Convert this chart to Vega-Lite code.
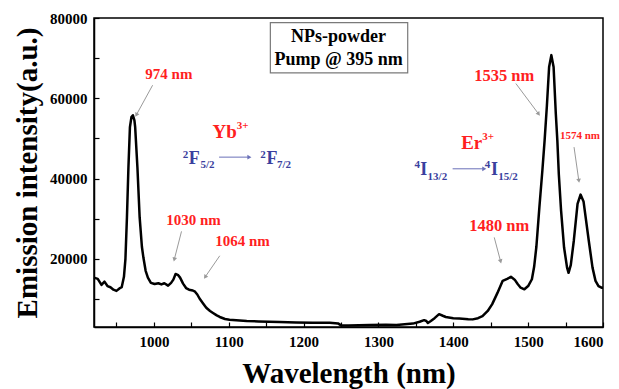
{
  "$schema": "https://vega.github.io/schema/vega-lite/v6.json",
  "width": 509,
  "height": 309,
  "autosize": {"type": "none"},
  "padding": {"left": 94, "top": 18, "right": 16, "bottom": 62},
  "config": {
    "font": "Liberation Serif",
    "view": {"stroke": "black", "strokeWidth": 1.5},
    "axis": {
      "labelFont": "Liberation Serif", "labelFontWeight": "bold", "labelFontSize": 15, "labelColor": "black",
      "titleFont": "Liberation Serif", "titleFontWeight": "bold", "titleFontSize": 29, "titleColor": "black",
      "domainColor": "black", "domainWidth": 1.5, "tickColor": "black", "tickWidth": 1.2, "tickSize": -5,
      "grid": false
    }
  },
  "datasets": {
    "spectrum": [
      {"x": 920, "y": 15300}, {"x": 925, "y": 15000}, {"x": 930, "y": 13500}, {"x": 934, "y": 14300},
      {"x": 938, "y": 13200}, {"x": 942, "y": 12900}, {"x": 946, "y": 12300}, {"x": 950, "y": 12000},
      {"x": 954, "y": 12600}, {"x": 957, "y": 12900}, {"x": 960, "y": 15500}, {"x": 962, "y": 20000},
      {"x": 964, "y": 30300}, {"x": 966, "y": 42800}, {"x": 968, "y": 52800}, {"x": 970, "y": 55300},
      {"x": 972, "y": 55750}, {"x": 974, "y": 54500}, {"x": 975, "y": 52800}, {"x": 978, "y": 42800},
      {"x": 981, "y": 30300}, {"x": 984, "y": 23000}, {"x": 986, "y": 20300}, {"x": 989, "y": 17000},
      {"x": 992, "y": 15300}, {"x": 996, "y": 14000}, {"x": 1001, "y": 13700}, {"x": 1006, "y": 13900},
      {"x": 1010, "y": 13600}, {"x": 1014, "y": 13900}, {"x": 1019, "y": 13300}, {"x": 1023, "y": 14000},
      {"x": 1026, "y": 14800}, {"x": 1029, "y": 16200}, {"x": 1032, "y": 16000}, {"x": 1035, "y": 15300},
      {"x": 1039, "y": 13800}, {"x": 1043, "y": 12700}, {"x": 1047, "y": 12300}, {"x": 1052, "y": 12100},
      {"x": 1055, "y": 11800}, {"x": 1058, "y": 11100}, {"x": 1061, "y": 10100}, {"x": 1066, "y": 8800},
      {"x": 1070, "y": 7800}, {"x": 1075, "y": 7000}, {"x": 1079, "y": 6500}, {"x": 1084, "y": 5900},
      {"x": 1088, "y": 5500}, {"x": 1095, "y": 5000}, {"x": 1101, "y": 4800}, {"x": 1110, "y": 4700},
      {"x": 1124, "y": 4500}, {"x": 1140, "y": 4400}, {"x": 1168, "y": 4250}, {"x": 1190, "y": 4150},
      {"x": 1212, "y": 4050}, {"x": 1235, "y": 4050}, {"x": 1246, "y": 3900}, {"x": 1250, "y": 3400},
      {"x": 1260, "y": 3350}, {"x": 1288, "y": 3500}, {"x": 1310, "y": 3550}, {"x": 1324, "y": 3500},
      {"x": 1346, "y": 3850}, {"x": 1355, "y": 4300}, {"x": 1361, "y": 4700}, {"x": 1364, "y": 4500},
      {"x": 1366, "y": 4000}, {"x": 1370, "y": 4500}, {"x": 1375, "y": 5200}, {"x": 1381, "y": 6200},
      {"x": 1386, "y": 5800}, {"x": 1390, "y": 5500}, {"x": 1400, "y": 5200}, {"x": 1408, "y": 5100},
      {"x": 1420, "y": 4950}, {"x": 1426, "y": 4900}, {"x": 1433, "y": 5200}, {"x": 1439, "y": 5700},
      {"x": 1446, "y": 7000}, {"x": 1452, "y": 8700}, {"x": 1459, "y": 11500}, {"x": 1466, "y": 14500},
      {"x": 1472, "y": 15000}, {"x": 1477, "y": 15500}, {"x": 1482, "y": 14800}, {"x": 1486, "y": 13700},
      {"x": 1490, "y": 12800}, {"x": 1495, "y": 12400}, {"x": 1500, "y": 13200}, {"x": 1505, "y": 14900},
      {"x": 1508, "y": 18000}, {"x": 1511, "y": 23000}, {"x": 1515, "y": 32800}, {"x": 1519, "y": 42000},
      {"x": 1522, "y": 49500}, {"x": 1525, "y": 58000}, {"x": 1528, "y": 67800}, {"x": 1531, "y": 70750},
      {"x": 1534, "y": 67800}, {"x": 1537, "y": 56000}, {"x": 1539, "y": 49500}, {"x": 1541, "y": 41000},
      {"x": 1544, "y": 32000}, {"x": 1548, "y": 22800}, {"x": 1552, "y": 17800}, {"x": 1554, "y": 16500},
      {"x": 1557, "y": 18500}, {"x": 1561, "y": 24500}, {"x": 1566, "y": 33700}, {"x": 1570, "y": 36000},
      {"x": 1574, "y": 34300}, {"x": 1581, "y": 24500}, {"x": 1586, "y": 17800}, {"x": 1590, "y": 14500},
      {"x": 1594, "y": 13200}, {"x": 1598, "y": 12800}, {"x": 1600, "y": 12800}
    ],
    "grayArrows": [
      {"x": 998.3, "y": 63250, "x2": 977, "y2": 56000},
      {"x": 1036.9, "y": 26830, "x2": 1027.5, "y2": 20000},
      {"x": 1088, "y": 20750, "x2": 1069, "y2": 15600},
      {"x": 1454.7, "y": 25330, "x2": 1463, "y2": 19500},
      {"x": 1483.6, "y": 63670, "x2": 1513.5, "y2": 56200},
      {"x": 1561.3, "y": 47830, "x2": 1567.6, "y2": 39600}
    ],
    "blueArrows": [
      {"x": 1087.1, "y": 45330, "x2": 1126.7, "y2": 45330},
      {"x": 1399.1, "y": 42420, "x2": 1440.5, "y2": 42420}
    ]
  },
  "encoding": {
    "x": {
      "field": "x", "type": "quantitative",
      "scale": {"domain": [920, 1600], "nice": false, "zero": false},
      "axis": {
        "title": "Wavelength (nm)",
        "values": [950, 1000, 1050, 1100, 1150, 1200, 1250, 1300, 1350, 1400, 1450, 1500, 1550, 1600],
        "labelExpr": "datum.value % 100 == 0 ? datum.value : ''",
        "labelPadding": 12, "titlePadding": 10
      }
    },
    "y": {
      "field": "y", "type": "quantitative",
      "scale": {"domain": [3000, 80000], "nice": false, "zero": false},
      "axis": {
        "title": "Emission intensity(a.u.)",
        "values": [10000, 20000, 30000, 40000, 50000, 60000, 70000, 80000],
        "labelExpr": "datum.value % 20000 == 0 ? datum.value : ''",
        "labelPadding": 12, "titlePadding": 7
      }
    }
  },
  "layer": [
    {
      "data": {"values": [{"x": 1155.6, "x2": 1339.1, "y": 78830, "y2": 66330}]},
      "mark": {"type": "rect", "fill": "white", "stroke": "#7a7a7a", "strokeWidth": 1.2},
      "encoding": {"x2": {"field": "x2"}, "y2": {"field": "y2"}}
    },
    {
      "data": {"name": "spectrum"},
      "mark": {"type": "line", "color": "black", "strokeWidth": 2.5, "strokeJoin": "round"}
    },
    {
      "data": {"values": [{"x": 1246.7, "y": 75330, "t": "NPs-powder"}, {"x": 1246.7, "y": 69500, "t": "Pump @ 395 nm"}]},
      "mark": {"type": "text", "font": "Liberation Serif", "fontWeight": "bold", "fontSize": 18, "color": "black", "align": "center", "baseline": "middle"},
      "encoding": {"text": {"field": "t"}}
    },
    {
      "data": {"values": [{"x": 1020, "y": 66000, "t": "974 nm"}, {"x": 1052.9, "y": 29670, "t": "1030 nm"}, {"x": 1118.3, "y": 24500, "t": "1064 nm"}]},
      "mark": {"type": "text", "fontWeight": "bold", "fontSize": 15, "color": "#ff1f1f", "align": "center", "baseline": "middle"},
      "encoding": {"text": {"field": "t"}}
    },
    {
      "data": {"values": [{"x": 1468, "y": 65500, "t": "1535 nm"}, {"x": 1461.3, "y": 28250, "t": "1480 nm"}]},
      "mark": {"type": "text", "fontWeight": "bold", "fontSize": 16.5, "color": "#ff1f1f", "align": "center", "baseline": "middle"},
      "encoding": {"text": {"field": "t"}}
    },
    {
      "data": {"values": [{"x": 1569.3, "y": 50500, "t": "1574 nm"}]},
      "mark": {"type": "text", "fontWeight": "bold", "fontSize": 11, "color": "#ff1f1f", "align": "center", "baseline": "middle"},
      "encoding": {"text": {"field": "t"}}
    },
    {
      "data": {"values": [{"x": 1110.7, "y": 51500, "t": "Yb"}, {"x": 1438.7, "y": 48750, "t": "Er"}]},
      "mark": {"type": "text", "fontWeight": "bold", "fontSize": 19, "color": "#ff1f1f", "align": "right", "baseline": "middle"},
      "encoding": {"text": {"field": "t"}}
    },
    {
      "data": {"values": [{"x": 1110.7, "y": 53200, "t": "3+"}, {"x": 1438.7, "y": 50400, "t": "3+"}]},
      "mark": {"type": "text", "fontWeight": "bold", "fontSize": 11, "color": "#ff1f1f", "align": "left", "baseline": "middle"},
      "encoding": {"text": {"field": "t"}}
    },
    {
      "data": {"values": [{"x": 1046.7, "y": 44870, "t": "F"}, {"x": 1150.3, "y": 44870, "t": "F"}, {"x": 1356, "y": 42000, "t": "I"}, {"x": 1450.3, "y": 42000, "t": "I"}]},
      "mark": {"type": "text", "fontWeight": "bold", "fontSize": 18, "color": "#3a3f9e", "align": "left", "baseline": "middle"},
      "encoding": {"text": {"field": "t"}}
    },
    {
      "data": {"values": [{"x": 1045.9, "y": 45900, "t": "2"}, {"x": 1149.3, "y": 45900, "t": "2"}, {"x": 1355.6, "y": 43250, "t": "4"}, {"x": 1449.3, "y": 43250, "t": "4"}]},
      "mark": {"type": "text", "fontWeight": "bold", "fontSize": 11, "color": "#3a3f9e", "align": "right", "baseline": "middle"},
      "encoding": {"text": {"field": "t"}}
    },
    {
      "data": {"values": [{"x": 1062.3, "y": 43250, "t": "5/2"}, {"x": 1164.4, "y": 43250, "t": "7/2"}, {"x": 1365.7, "y": 40500, "t": "13/2"}, {"x": 1460, "y": 40500, "t": "15/2"}]},
      "mark": {"type": "text", "fontWeight": "bold", "fontSize": 11, "color": "#3a3f9e", "align": "left", "baseline": "middle"},
      "encoding": {"text": {"field": "t"}}
    },
    {
      "data": {"name": "grayArrows"},
      "mark": {"type": "rule", "color": "#9a9a9a", "strokeWidth": 1},
      "encoding": {"x2": {"field": "x2"}, "y2": {"field": "y2"}}
    },
    {
      "data": {"name": "grayArrows"},
      "transform": [{"calculate": "atan2((datum.x2 - datum.x) * 0.75, (datum.y2 - datum.y) / 250) * 180 / PI", "as": "angle"}],
      "mark": {"type": "point", "shape": "triangle", "filled": true, "color": "#9a9a9a", "size": 22, "opacity": 1},
      "encoding": {
        "x": {"field": "x2", "type": "quantitative"},
        "y": {"field": "y2", "type": "quantitative"},
        "angle": {"field": "angle", "type": "quantitative", "scale": null}
      }
    },
    {
      "data": {"name": "blueArrows"},
      "mark": {"type": "rule", "color": "#6a70b8", "strokeWidth": 1},
      "encoding": {"x2": {"field": "x2"}, "y2": {"field": "y2"}}
    },
    {
      "data": {"name": "blueArrows"},
      "transform": [{"calculate": "atan2((datum.x2 - datum.x) * 0.75, (datum.y2 - datum.y) / 250) * 180 / PI", "as": "angle"}],
      "mark": {"type": "point", "shape": "triangle", "filled": true, "color": "#6a70b8", "size": 22, "opacity": 1},
      "encoding": {
        "x": {"field": "x2", "type": "quantitative"},
        "y": {"field": "y2", "type": "quantitative"},
        "angle": {"field": "angle", "type": "quantitative", "scale": null}
      }
    }
  ]
}
